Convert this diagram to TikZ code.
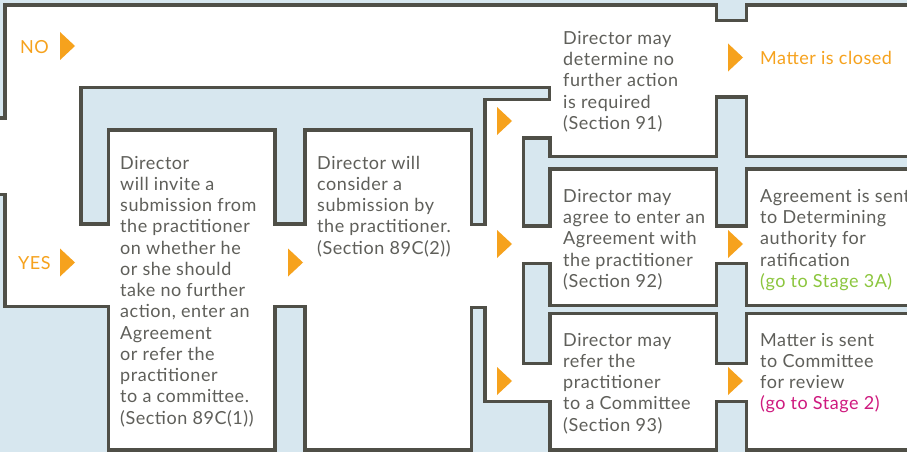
\documentclass[tikz,border=0pt]{standalone}
\usepackage{fontspec}
\setmainfont{Lato}[LetterSpace=3.0]
\definecolor{wallgray}{HTML}{4F4F47}
\definecolor{paleblue}{HTML}{D7E7EF}
\definecolor{textgray}{HTML}{5F5F5A}
\definecolor{floworange}{HTML}{F6A21D}
\definecolor{stagegreen}{HTML}{8CC63E}
\definecolor{stagepink}{HTML}{CF1A7F}
\tikzset{
  wall/.style={fill=paleblue, draw=wallgray, line width=3.6pt, line join=miter},
  steptext/.style={anchor=base west, inner sep=0pt, align=left, text=textgray,
    font=\fontsize{18}{21.25}\selectfont},
  answer/.style={steptext, text=floworange},
}
% orange pointer, centred on the left edge
\newcommand{\pointer}[1]{\fill[floworange] (#1) ++(0,-14) -- ++(15,14) -- ++(-15,14) -- cycle;}

\begin{document}
\begin{tikzpicture}[x=1pt, y=-1pt]
        \useasboundingbox (0,0) rectangle (907,452);
        \clip (0,0) rectangle (907,452);
        \fill[white] (0,0) rectangle (907,452);

        % blue blocks
        \filldraw[wall] (-20,-20) -- (-20,118) -- (5,118) -- (5,5) -- (716.5,5) -- (716.5,20.5) -- (746.5,20.5) -- (746.5,5) -- (930,5) -- (930,-20) -- cycle;
        \filldraw[wall] (81,224) -- (81,87.5) -- (549.5,87.5) -- (549.5,99.5) -- (485,99.5) -- (485,224.5) -- (471.5,224.5) -- (471.5,130) -- (305,130) -- (305,224) -- (275,224) -- (275,130) -- (108.5,130) -- (108.5,224) -- cycle;
        \filldraw[wall] (523.5,226) -- (523.5,138) -- (550,138) -- (550,156.5) -- (716.5,156.5) -- (716.5,97) -- (746.5,97) -- (746.5,156.5) -- (930,156.5) -- (930,169) -- (746.5,169) -- (746.5,226) -- (716.5,226) -- (716.5,169) -- (550,169) -- (550,226) -- cycle;
        \filldraw[wall] (523.5,363.5) -- (523.5,263.5) -- (550,263.5) -- (550,305.5) -- (716.5,305.5) -- (716.5,263.5) -- (746.5,263.5) -- (746.5,305.5) -- (930,305.5) -- (930,313.5) -- (746.5,313.5) -- (746.5,363.5) -- (716.5,363.5) -- (716.5,313.5) -- (550,313.5) -- (550,363.5) -- cycle;
        \filldraw[wall] (-20,194.5) -- (5,194.5) -- (5,306.5) -- (108.5,306.5) -- (108.5,450) -- (275,450) -- (275,306.5) -- (305,306.5) -- (305,450) -- (471.5,450) -- (471.5,307.5) -- (485,307.5) -- (485,401.5) -- (550,401.5) -- (550,450) -- (716.5,450) -- (716.5,401.5) -- (746.5,401.5) -- (746.5,450) -- (930,450) -- (930,480) -- (-20,480) -- cycle;

        % pointers
        \pointer{60,46}
        \pointer{60,262.5}
        \pointer{288,262.5}
        \pointer{497,121}
        \pointer{728,57.5}
        \pointer{497,244}
        \pointer{728,244}
        \pointer{497,381}
        \pointer{728,381}

        % base anchor = last line
        \node[answer] (no) at (20,53) {NO};
        \node[answer] (yes) at (18,269) {YES};

        \node[steptext] (invite) at (120,424) {Director\\will invite a\\submission from\\the practitioner\\on whether he\\or she should\\take no further\\action, enter an\\Agreement\\or refer the\\practitioner\\to a committee.\\(Section 89C(1))};
        \node[steptext] (consider) at (317,254) {Director will\\consider a\\submission by\\the practitioner.\\(Section 89C(2))};

        \node[steptext] (nfa) at (563,129.3) {Director may\\determine no\\further action\\is required\\(Section 91)};
        \node[steptext] (agree) at (563,287.3) {Director may\\agree to enter an\\Agreement with\\the practitioner\\(Section 92)};
        \node[steptext] (refer) at (563,431) {Director may\\refer the\\practitioner\\to a Committee\\(Section 93)};

        \node[answer] (closed) at (760,65) {Matter is closed};
        \node[steptext] (ratify) at (760,287.3) {Agreement is sent\\to Determining\\authority for\\ratification\\\textcolor{stagegreen}{(go to Stage 3A)}};
        \node[steptext] (committee) at (760,409.8) {Matter is sent\\to Committee\\for review\\\textcolor{stagepink}{(go to Stage 2)}};
    \end{tikzpicture}
\end{document}
